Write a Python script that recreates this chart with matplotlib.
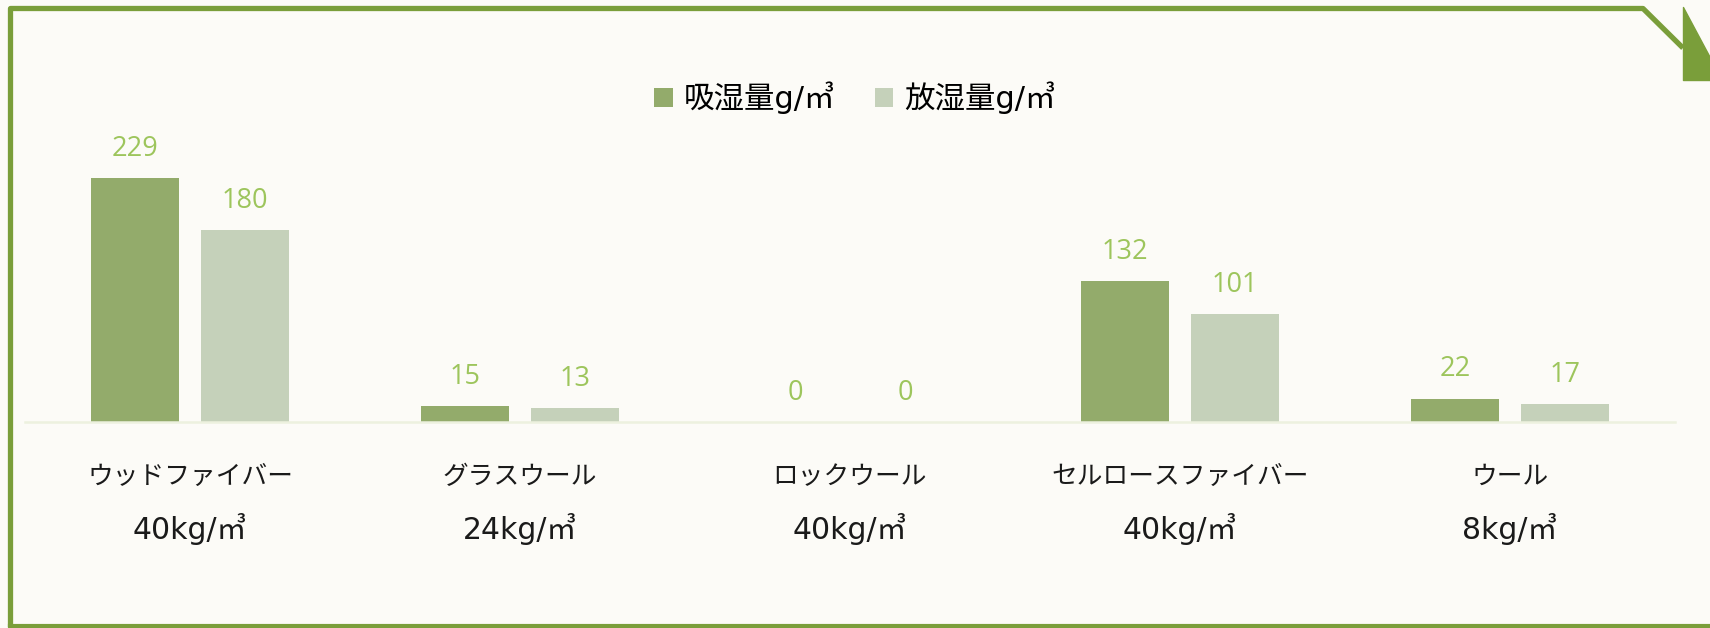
import matplotlib
matplotlib.use("Agg")
import matplotlib.pyplot as plt
import numpy as np
from matplotlib.patches import Patch, Polygon

plt.rcParams['font.family'] = ['Noto Sans CJK JP', 'DejaVu Sans']
mixed = ['DejaVu Sans', 'Noto Sans CJK JP']

# data
materials = ["ウッドファイバー", "グラスウール", "ロックウール", "セルロースファイバー", "ウール"]
densities = ["40kg/㎥", "24kg/㎥", "40kg/㎥", "40kg/㎥", "8kg/㎥"]
absorb = [229, 15, 0, 132, 22]
release = [180, 13, 0, 101, 17]
series_names = ["吸湿量g/㎥", "放湿量g/㎥"]

bg = "#FCFBF7"
dark = "#93AB6B"
light = "#C5D1BA"
label_col = "#9DC55C"
frame_col = "#7A9E3A"

W, H = 1710, 628
fig = plt.figure(figsize=(W / 100, H / 100), dpi=100, facecolor=bg)

# frame decoration in pixel coords
deco = fig.add_axes([0, 0, 1, 1])
deco.set_xlim(0, W)
deco.set_ylim(H, 0)
deco.axis("off")
deco.set_facecolor(bg)
deco.plot([10.5, 10.5, 1643, 1683], [627, 8.5, 8.5, 48], color=frame_col, lw=3.8,
          solid_joinstyle="round", solid_capstyle="butt")
deco.plot([10, W], [626, 626], color=frame_col, lw=3.0)
deco.add_patch(Polygon([(1683, 7), (1683, 80), (1722, 80)], closed=True,
                       facecolor=frame_col, edgecolor=frame_col, lw=1, joinstyle="round"))

# main chart axes
ax = fig.add_axes([25 / W, (H - 422) / H, 1650 / W, 266.4 / H])
ax.patch.set_alpha(0)
x = np.arange(len(materials))
bw = 0.267
off = 0.1667
b1 = ax.bar(x - off, absorb, bw, color=dark, zorder=2)
b2 = ax.bar(x + off, release, bw, color=light, zorder=2)

ax.set_xlim(-0.5, len(materials) - 0.5)
ax.set_ylim(0, 250)
for s in ["top", "right", "left"]:
    ax.spines[s].set_visible(False)
ax.spines["bottom"].set_color("#EDF1DF")
ax.spines["bottom"].set_linewidth(1.8)
ax.set_yticks([])
ax.set_xticks([])

for bars, vals in [(b1, absorb), (b2, release)]:
    for rect, v in zip(bars, vals):
        ax.annotate(str(v), (rect.get_x() + rect.get_width() / 2, v),
                    xytext=(0, 21), textcoords="offset points",
                    ha="center", va="center", fontsize=19.5, color=label_col,
                    family=["Open Sans", "DejaVu Sans"])

for xi, name, dens in zip(x, materials, densities):
    ax.annotate(name, (xi, 0), xytext=(0, -39.6), textcoords="offset points",
                ha="center", va="center", fontsize=18.5, color="#1A1A1A")
    ax.annotate(dens, (xi, 0), xytext=(0, -77), textcoords="offset points",
                ha="center", va="center", fontsize=21.5, color="#1A1A1A",
                family=mixed)

handles = [Patch(facecolor=dark, edgecolor="none"), Patch(facecolor=light, edgecolor="none")]
fig.legend(handles, series_names, loc="center", bbox_to_anchor=(0.5, 1 - 98 / H),
           ncol=2, frameon=False, prop={"family": mixed, "size": 22},
           handlelength=0.6, handleheight=0.6, handletextpad=0.36, columnspacing=1.3)

fig.savefig("out.png", dpi=100, facecolor=bg)
